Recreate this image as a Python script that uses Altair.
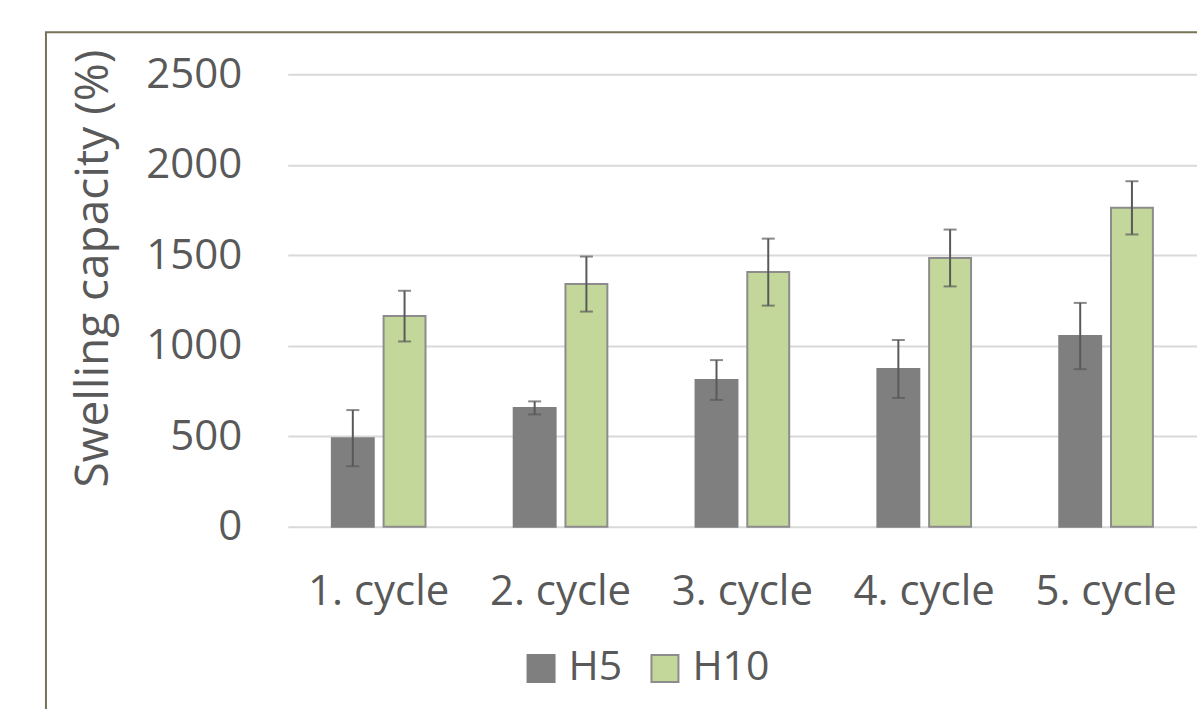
import altair as alt
import pandas as pd

cycles = ["1. cycle", "2. cycle", "3. cycle", "4. cycle", "5. cycle"]
series = ["H5", "H10"]
h5_values = [490, 657, 811, 872, 1054]
h5_errors = [155, 36, 110, 160, 183]
h10_values = [1164, 1341, 1407, 1485, 1762]
h10_errors = [140, 152, 185, 157, 147]
y_ticks = [0, 500, 1000, 1500, 2000, 2500]

rows = []
for i, c in enumerate(cycles):
    rows.append({"cycle": c, "series": "H5", "value": h5_values[i],
                 "lo": h5_values[i] - h5_errors[i], "hi": h5_values[i] + h5_errors[i]})
    rows.append({"cycle": c, "series": "H10", "value": h10_values[i],
                 "lo": h10_values[i] - h10_errors[i], "hi": h10_values[i] + h10_errors[i]})
df = pd.DataFrame(rows)

FONT = "Open Sans"
TXT = "#595959"

x_axis = alt.Axis(labelFont=FONT, labelFontSize=42, labelColor=TXT, grid=False,
                  labelAngle=0, labelPadding=45, domain=False, ticks=False)
y_axis = alt.Axis(values=y_ticks, format="d", labelFont=FONT, labelFontSize=42,
                  labelColor=TXT, labelPadding=46, titleFont=FONT, titleFontSize=46,
                  titleFontWeight="normal", titleColor=TXT, titlePadding=28,
                  titleY=194, titleAlign="center",
                  domain=False, ticks=False, gridColor="#d9d9d9", gridWidth=2)

x_enc = alt.X("cycle:N", sort=cycles, title=None,
              scale=alt.Scale(paddingInner=0.485, paddingOuter=0.2425), axis=x_axis)
xo_enc = alt.XOffset("series:N", sort=series, scale=alt.Scale(paddingInner=0.19, paddingOuter=0))
y_scale = alt.Scale(domain=[0, 2500], nice=False)

fill_scale = alt.Scale(domain=series, range=["#7f7f7f", "#c4d79b"])
stroke_scale = alt.Scale(domain=series, range=["#7f7f7f", "#8c8c8c"])
legend = alt.Legend(title=None, orient="none", legendX=233, legendY=574, direction="horizontal",
                    symbolType="square", symbolSize=729, symbolStrokeWidth=2,
                    labelFont=FONT, labelFontSize=41, labelColor=TXT, labelOffset=7,
                    columnPadding=22, symbolOpacity=1)

base = alt.Chart(df)

bars = base.mark_bar(strokeWidth=2).encode(
    x=x_enc,
    xOffset=xo_enc,
    y=alt.Y("value:Q", scale=y_scale, title="Swelling capacity (%)", axis=y_axis),
    fill=alt.Fill("series:N", scale=fill_scale, sort=series, legend=legend),
    stroke=alt.Stroke("series:N", scale=stroke_scale, sort=series, legend=legend),
)

ex = alt.X("cycle:N", sort=cycles, title=None, axis=x_axis)
exo = alt.XOffset("series:N", sort=series)

err_rule = base.mark_rule(color="#595959", strokeWidth=2).encode(
    x=ex, xOffset=exo,
    y=alt.Y("lo:Q", title="Swelling capacity (%)", axis=y_axis), y2="hi:Q",
)
cap_lo = base.mark_tick(color="#595959", thickness=2, size=13).encode(
    x=ex, xOffset=exo, y=alt.Y("lo:Q", title="Swelling capacity (%)", axis=y_axis),
)
cap_hi = base.mark_tick(color="#595959", thickness=2, size=13).encode(
    x=ex, xOffset=exo, y=alt.Y("hi:Q", title="Swelling capacity (%)", axis=y_axis),
)

frame_v = alt.Chart(pd.DataFrame({"a": [0]})).mark_rule(color="#767256", strokeWidth=2).encode(
    x=alt.value(-242), y=alt.value(-42), y2=alt.value(700))
frame_h = alt.Chart(pd.DataFrame({"a": [0]})).mark_rule(color="#767256", strokeWidth=2).encode(
    x=alt.value(-243), x2=alt.value(1000), y=alt.value(-42))

chart = alt.layer(bars, err_rule, cap_lo, cap_hi, frame_v, frame_h).properties(
    width=910, height=453,
    autosize="none",
    background="white",
    padding={"left": 288, "top": 74, "right": 0, "bottom": 182},
).configure_view(strokeWidth=0, stroke="transparent").configure_axis(
    domain=False, ticks=False).configure_axisX(grid=False)

chart.save("out.html", embed_options={"renderer": "svg", "actions": False})
